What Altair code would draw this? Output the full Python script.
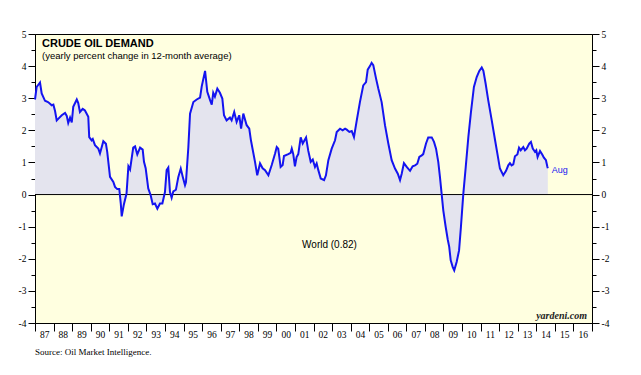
import altair as alt
import pandas as pd

# ---- data (decimal year, yearly % change) ----
years = [
    1987.00, 1987.09, 1987.18, 1987.27, 1987.36, 1987.54, 1987.70, 1987.81, 1987.90, 1987.99,
    1988.08, 1988.17, 1988.29, 1988.44, 1988.62, 1988.71, 1988.79, 1988.89, 1988.98,
    1989.06, 1989.25, 1989.33, 1989.42, 1989.57, 1989.69, 1989.87, 1989.92,
    1990.05, 1990.11, 1990.23, 1990.41, 1990.50, 1990.68, 1990.82, 1990.89,
    1991.04, 1991.22, 1991.31, 1991.43, 1991.54, 1991.62, 1991.67, 1991.79, 1991.93,
    1992.03, 1992.12, 1992.29, 1992.39, 1992.51, 1992.66, 1992.80, 1992.87, 1992.96,
    1993.10, 1993.23, 1993.34, 1993.46, 1993.59, 1993.73, 1993.86,
    1994.00, 1994.09, 1994.18, 1994.27, 1994.36, 1994.45, 1994.59, 1994.72, 1994.85, 1994.96,
    1995.08, 1995.13, 1995.26, 1995.35, 1995.53, 1995.71, 1995.89, 1995.98,
    1996.16, 1996.28, 1996.43, 1996.52, 1996.60, 1996.69, 1996.82, 1996.96,
    1997.09, 1997.18, 1997.32, 1997.50, 1997.59, 1997.73, 1997.86,
    1998.00, 1998.10, 1998.22, 1998.40, 1998.54, 1998.63, 1998.85, 1998.97,
    1999.12, 1999.26, 1999.39, 1999.57, 1999.75, 1999.93,
    2000.02, 2000.10, 2000.23, 2000.34, 2000.41, 2000.64, 2000.77, 2000.83, 2000.91,
    2001.00, 2001.09, 2001.18, 2001.31, 2001.42, 2001.60, 2001.72, 2001.85, 2001.96,
    2002.08, 2002.17, 2002.26, 2002.39, 2002.57, 2002.67, 2002.80, 2002.98,
    2003.16, 2003.25, 2003.43, 2003.57, 2003.70, 2003.79, 2003.93,
    2004.06, 2004.18, 2004.33, 2004.50, 2004.68, 2004.83, 2004.92,
    2005.04, 2005.13, 2005.22, 2005.37, 2005.49, 2005.67, 2005.85,
    2006.03, 2006.21, 2006.39, 2006.54, 2006.66, 2006.75, 2006.87,
    2007.02, 2007.20, 2007.34, 2007.47, 2007.59, 2007.70, 2007.83, 2007.91,
    2008.06, 2008.18, 2008.37, 2008.49, 2008.60, 2008.72, 2008.81, 2008.90, 2008.99,
    2009.12, 2009.23, 2009.31, 2009.39, 2009.50, 2009.58, 2009.71, 2009.84, 2009.94,
    2010.07, 2010.20, 2010.34, 2010.48, 2010.64, 2010.79, 2010.93,
    2011.06, 2011.15, 2011.27, 2011.41, 2011.60, 2011.78, 2011.92,
    2012.04, 2012.22, 2012.37, 2012.49, 2012.58, 2012.67, 2012.76, 2012.85, 2012.98,
    2013.07, 2013.16, 2013.30, 2013.39, 2013.48, 2013.62, 2013.71, 2013.81, 2013.93,
    2014.00, 2014.07, 2014.20, 2014.32, 2014.41, 2014.52, 2014.59, 2014.62,
]
values = [
    2.96, 3.35, 3.42, 3.49, 3.15, 2.92, 2.88, 2.83, 2.78, 2.80,
    2.60, 2.31, 2.38, 2.47, 2.54, 2.45, 2.23, 2.40, 2.25,
    2.73, 2.96, 2.85, 2.57, 2.67, 2.62, 2.42, 1.79,
    1.69, 1.73, 1.54, 1.43, 1.28, 1.66, 1.58, 1.33,
    0.55, 0.39, 0.24, 0.17, 0.17, -0.28, -0.68, -0.30, 0.03,
    0.88, 0.78, 1.46, 1.50, 1.25, 1.46, 1.40, 1.02, 0.82,
    0.19, -0.02, -0.30, -0.28, -0.44, -0.28, -0.28,
    0.08, 0.76, 0.84, 0.08, -0.10, 0.10, 0.15, 0.55, 0.81, 0.55,
    0.29, 0.38, 1.48, 2.52, 2.88, 2.96, 3.02, 3.37,
    3.85, 3.20, 2.94, 2.80, 3.17, 3.05, 3.30, 3.17,
    2.99, 2.47, 2.31, 2.40, 2.31, 2.57, 2.26,
    2.47, 2.05, 2.52, 2.16, 2.05, 1.69, 1.02, 0.60,
    0.97, 0.82, 0.76, 0.60, 0.92, 1.28,
    1.48, 1.43, 0.86, 0.92, 1.20, 1.26, 1.30, 1.43, 1.26,
    0.88, 1.17, 1.26, 1.78, 1.59, 1.78, 1.36, 1.02, 1.09,
    0.86, 0.97, 0.76, 0.50, 0.45, 0.60, 1.07, 1.43,
    1.69, 1.95, 2.05, 2.00, 2.05, 2.02, 1.95,
    1.98, 1.79, 2.31, 2.88, 3.40, 3.50, 3.89,
    4.00, 4.10, 4.03, 3.61, 3.30, 2.88, 2.16,
    1.59, 1.07, 0.81, 0.65, 0.45, 0.65, 0.98,
    0.86, 0.74, 0.88, 0.91, 0.96, 1.17, 1.22, 1.26,
    1.59, 1.78, 1.78, 1.64, 1.43, 1.02, 0.55, 0.03, -0.49,
    -1.01, -1.40, -1.63, -2.05, -2.26, -2.36, -2.10, -1.74, -1.01,
    0.03, 0.86, 1.79, 2.57, 3.35, 3.66, 3.85,
    3.96, 3.85, 3.46, 2.94, 2.31, 1.69, 1.22,
    0.81, 0.60, 0.74, 0.91, 0.98, 0.91, 0.94, 1.19, 1.25,
    1.46, 1.38, 1.48, 1.38, 1.43, 1.59, 1.64, 1.43, 1.33,
    1.38, 1.17, 1.36, 1.25, 1.15, 1.07, 0.88, 0.82,
]
x_ticks = list(range(1987, 2018))
y_ticks = [h / 2 for h in range(-8, 11)]
zero_line = [0]

title_text = "CRUDE OIL DEMAND"
subtitle_text = "(yearly percent change in 12-month average)"
series_label = "World (0.82)"
last_label = "Aug"
brand_text = "yardeni.com"
source_text = "Source: Oil Market Intelligence."

df = pd.DataFrame({"t": years, "v": values})
last = df.tail(1).assign(label=last_label)

xscale = alt.Scale(domain=[1987, 2017], nice=False, zero=False)
yscale = alt.Scale(domain=[-4, 5], nice=False, zero=False)

serif = "Liberation Serif"
sans = "Liberation Sans"

xaxis = alt.Axis(
    values=x_ticks, title=None, grid=False,
    labelExpr="datum.value == 2017 ? '' : slice(toString(datum.value), 2)",
    labelOffset=9.3, labelPadding=-2, tickSize=8, labelBaseline="top",
    labelFlush=False, labelOverlap=False, labelBound=False,
    labelFont=serif, labelFontSize=9.5, labelColor="black",
    tickColor="black", domainColor="black",
)

def yaxis(orient):
    return alt.Axis(
        orient=orient, values=y_ticks, title=None, grid=False,
        labelExpr="datum.value % 1 == 0 ? toString(datum.value) : ''",
        tickSize={"condition": {"test": "datum.value % 1 == 0", "value": 7}, "value": 4},
        labelPadding=2, labelOverlap=False, labelFlush=False, labelBound=False,
        labelFont=serif, labelFontSize=9.5, labelColor="black",
        tickColor="black", domainColor="black",
    )

area = alt.Chart(df).mark_area(color="#E4E4EE", opacity=1).encode(
    x=alt.X("t:Q", scale=xscale, axis=xaxis),
    y=alt.Y("v:Q", scale=yscale, axis=yaxis("left")),
    y2=alt.datum(0),
)

rule = alt.Chart(pd.DataFrame({"z": zero_line})).mark_rule(color="black", strokeWidth=1).encode(
    y=alt.Y("z:Q", scale=yscale, axis=yaxis("right")),
)

line = alt.Chart(df).mark_line(color="#1414F0", strokeWidth=2).encode(
    x=alt.X("t:Q", scale=xscale, axis=xaxis),
    y=alt.Y("v:Q", scale=yscale, axis=None),
)

aug = alt.Chart(last).mark_text(
    align="left", baseline="middle", dx=4, dy=2, font=sans, fontSize=9, color="#1414F0"
).encode(
    x=alt.X("t:Q", scale=xscale, axis=xaxis),
    y=alt.Y("v:Q", scale=yscale, axis=None),
    text="label:N",
)

def label(text, x, y, **kw):
    return alt.Chart(pd.DataFrame({"s": [text]})).mark_text(**kw).encode(
        text="s:N", x=alt.value(x), y=alt.value(y)
    )

title = label(title_text, 7, 12.7, align="left", baseline="alphabetic",
              font=sans, fontSize=11, fontWeight="bold", color="black")
subtitle = label(subtitle_text, 7, 24.5, align="left", baseline="alphabetic",
                 font=sans, fontSize=9.5, color="black")
world = label(series_label, 294.5, 211, align="center", baseline="middle",
              font=sans, fontSize=10, color="black")
brand = label(brand_text, 552, 282, align="right", baseline="middle",
              font=serif, fontSize=10, fontWeight="bold", fontStyle="italic", color="#222222")
source = label(source_text, 0, 318, align="left", baseline="middle",
               font=serif, fontSize=9, color="black")

chart = alt.layer(
    area, rule, line, aug, title, subtitle, world, brand, source
).resolve_scale(y="independent").properties(
    width=557, height=289, autosize="none", background="white",
    padding={"left": 27, "top": 26, "right": 41, "bottom": 44},
).configure_view(
    fill="#FFFFE0", stroke="black", strokeWidth=1
).configure_axis(
    labelFont=serif, labelOverlap=False, labelFlush=False
)

chart.save("out.html", embed_options={"renderer": "svg", "actions": False})
